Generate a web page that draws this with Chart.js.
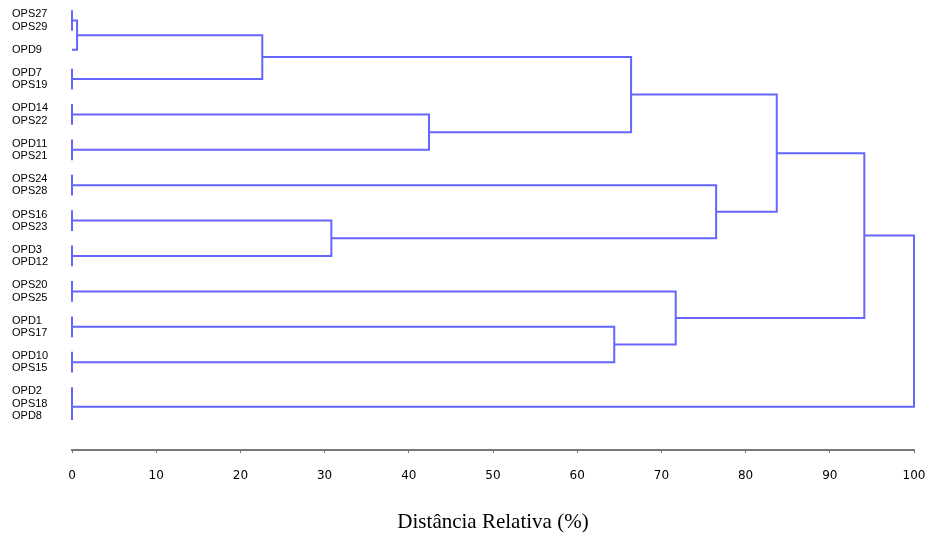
<!DOCTYPE html>
<html>
<head>
<meta charset="utf-8">
<script src="https://cdn.jsdelivr.net/npm/chart.js@4.4.0/dist/chart.umd.min.js"></script>
<style>
  html, body { margin: 0; padding: 0; background: #fff; }
  #wrap { width: 925px; height: 535px; }
</style>
</head>
<body>
<div id="wrap"><canvas id="dendro"></canvas></div>
<script>
// Leaves, top to bottom
const leafNames = [
  "OPS27", "OPS29", "OPD9", "OPD7", "OPS19", "OPD14", "OPS22", "OPD11",
  "OPS21", "OPS24", "OPS28", "OPS16", "OPS23", "OPD3", "OPD12", "OPS20",
  "OPS25", "OPD1", "OPS17", "OPD10", "OPS15", "OPD2", "OPS18", "OPD8",
];

// Merges (linkage style): node 24 + i joins mergeLeft[i] and mergeRight[i]
const mergeLeft = [0, 3, 5, 7, 9, 11, 13, 15, 17, 19, 21, 34, 24, 36, 26, 37, 29, 28, 39, 32, 31, 42, 45];
const mergeRight = [1, 4, 6, 8, 10, 12, 14, 16, 18, 20, 22, 23, 2, 25, 27, 38, 30, 40, 41, 33, 43, 44, 35];
const mergeHeight = [0, 0, 0, 0, 0, 0, 0, 0, 0, 0, 0, 0, 0.6, 22.6, 42.4, 66.4, 30.8, 76.5, 83.7, 64.4, 71.7, 94.1, 100];

const xTicks = [0, 10, 20, 30, 40, 50, 60, 70, 80, 90, 100];

const LINE_COLOR = "#6666ff";
const GROUP_GAP = 1.9; // row gap between leaves that are not identical
const BAR_PAD = 0.35; // little overhang of the zero-distance bars

// Group leaves that are joined at distance 0
const nLeaves = leafNames.length;
const members = [];
for (let i = 0; i < nLeaves; i++) members.push([i]);
const zeroGroup = leafNames.map((_, i) => i);
mergeLeft.forEach((a, i) => {
  const b = mergeRight[i];
  members.push(members[a].concat(members[b]));
  if (mergeHeight[i] === 0) {
    const g = zeroGroup[members[a][0]];
    members[nLeaves + i].forEach((leaf) => (zeroGroup[leaf] = g));
  }
});

// Row position of every leaf
const leafPos = [];
leafNames.forEach((_, i) => {
  if (i === 0) leafPos.push(0);
  else leafPos.push(leafPos[i - 1] + (zeroGroup[i] === zeroGroup[i - 1] ? 1 : GROUP_GAP));
});

// Position and height of every node
const nodeY = leafPos.slice();
const nodeH = leafNames.map(() => 0);
mergeLeft.forEach((a, i) => {
  const b = mergeRight[i];
  nodeY.push((nodeY[a] + nodeY[b]) / 2);
  nodeH.push(mergeHeight[i]);
});

// One polyline per merge
const datasets = mergeLeft.map((a, i) => {
  const b = mergeRight[i];
  const h = mergeHeight[i];
  let pts;
  if (h === 0) {
    const top = Math.min(nodeY[a], nodeY[b]) - BAR_PAD;
    const bottom = Math.max(nodeY[a], nodeY[b]) + BAR_PAD;
    pts = [{ x: 0, y: top }, { x: 0, y: bottom }];
  } else {
    pts = [
      { x: nodeH[a], y: nodeY[a] },
      { x: h, y: nodeY[a] },
      { x: h, y: nodeY[b] },
      { x: nodeH[b], y: nodeY[b] },
    ];
  }
  return {
    data: pts,
    showLine: true,
    borderColor: LINE_COLOR,
    borderWidth: 2,
    pointRadius: 0,
    tension: 0,
    fill: false,
    clip: false,
  };
});

const ctx = document.getElementById("dendro").getContext("2d");
new Chart(ctx, {
  type: "scatter",
  data: { datasets },
  options: {
    responsive: true,
    maintainAspectRatio: false,
    animation: false,
    layout: { padding: { left: 12, right: 11, top: 0, bottom: 0 } },
    plugins: { legend: { display: false }, tooltip: { enabled: false } },
    scales: {
      x: {
        type: "linear",
        min: 0,
        max: 100,
        afterBuildTicks: (scale) => {
          scale.ticks = xTicks.map((v) => ({ value: v }));
        },
        afterFit: (scale) => {
          scale.height = 85;
          scale.paddingLeft = 0;
          scale.paddingRight = 0;
        },
        grid: { drawOnChartArea: false, drawTicks: true, tickLength: 3, color: "#777" },
        border: { display: true, color: "#777", width: 2 },
        ticks: {
          color: "#000",
          padding: 16,
          maxRotation: 0,
          font: { family: "'DejaVu Sans', Verdana, sans-serif", size: 12 },
        },
        title: {
          display: true,
          text: "Distância Relativa (%)",
          color: "#000",
          font: { family: "'Liberation Serif', 'Times New Roman', serif", size: 21 },
          padding: { top: 0, bottom: 0 },
        },
      },
      y: {
        type: "linear",
        reverse: true,
        min: -1.18,
        max: 35.7,
        afterBuildTicks: (scale) => {
          scale.ticks = leafPos.map((v) => ({ value: v }));
        },
        afterFit: (scale) => {
          scale.width = 60;
          scale.paddingTop = 0;
          scale.paddingBottom = 0;
        },
        grid: { display: false },
        border: { display: false },
        ticks: {
          autoSkip: false,
          crossAlign: "far",
          padding: 0,
          color: "#000",
          font: { family: "'Liberation Sans', Arial, sans-serif", size: 11 },
          callback: (value, index) => leafNames[index],
        },
      },
    },
  },
});
</script>
</body>
</html>
